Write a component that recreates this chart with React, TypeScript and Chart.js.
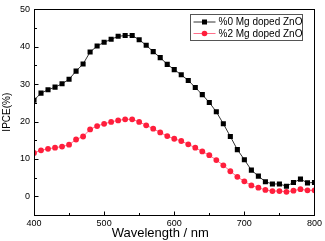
import React, { useEffect, useRef } from "react";
import { Chart, registerables } from "chart.js";

Chart.register(...registerables);

const wavelengths = [
  400, 410, 420, 430, 440, 450, 460, 470, 480, 490, 500, 510, 520, 530, 540, 550, 560, 570, 580, 590,
  600, 610, 620, 630, 640, 650, 660, 670, 680, 690, 700, 710, 720, 730, 740, 750, 760, 770, 780, 790, 800,
];
const mg0Values = [
  25.7, 27.6, 28.5, 29.2, 30.1, 31.3, 33.5, 35.4, 38.6, 40.2, 41.2, 42.0, 42.8, 43.0, 43.0, 41.9, 40.4, 38.7, 37.1, 35.3,
  33.9, 32.5, 31.0, 29.1, 27.2, 25.1, 22.6, 19.4, 16.0, 12.5, 9.8, 7.0, 5.4, 3.9, 3.3, 3.3, 2.7, 3.7, 4.6, 3.6, 3.7,
];
const mg2Values = [
  11.6, 12.3, 12.7, 13.0, 13.3, 13.8, 15.2, 16.0, 17.9, 18.8, 19.4, 19.9, 20.3, 20.6, 20.6, 19.9, 19.0, 18.1, 17.1, 16.1,
  15.4, 14.8, 13.9, 13.0, 12.0, 11.0, 9.7, 8.3, 6.7, 5.2, 4.0, 2.9, 2.3, 1.7, 1.4, 1.4, 1.2, 1.5, 1.9, 1.6, 1.6,
];
const seriesLabels = ["%0 Mg doped ZnO", "%2 Mg doped ZnO"];
const xTitle = "Wavelength / nm";
const yTitle = "IPCE(%)";
const xTicks = [400, 500, 600, 700, 800];
const xMinorTicks = [450, 550, 650, 750];
const yTicks = [0, 10, 20, 30, 40, 50];
const yMinorTicks = [-5, 5, 15, 25, 35, 45];

const FONT = "'Liberation Sans', Arial, sans-serif";
const BLACK_LINE = "#333333";
const BLACK_POINT = "#000000";
const RED_LINE = "#ff6f8a";
const RED_POINT = "#ff1e3c";

const framePlugin = {
  id: "framePlugin",
  afterDraw(chart: any) {
    const { ctx, chartArea, scales } = chart;
    const xs = scales.x;
    const ys = scales.y;
    ctx.save();
    ctx.strokeStyle = "#000";
    ctx.lineWidth = 1;
    ctx.strokeRect(
      Math.round(chartArea.left) + 0.5,
      Math.round(chartArea.top) + 0.5,
      Math.round(chartArea.right - chartArea.left),
      Math.round(chartArea.bottom - chartArea.top)
    );
    ctx.beginPath();
    const bottom = Math.round(chartArea.bottom) + 0.5;
    const left = Math.round(chartArea.left) + 0.5;
    xTicks.forEach((v) => {
      const px = Math.round(xs.getPixelForValue(v)) + 0.5;
      ctx.moveTo(px, bottom);
      ctx.lineTo(px, bottom - 4);
    });
    xMinorTicks.forEach((v) => {
      const px = Math.round(xs.getPixelForValue(v)) + 0.5;
      ctx.moveTo(px, bottom);
      ctx.lineTo(px, bottom - 2.5);
    });
    yTicks.forEach((v) => {
      const py = Math.round(ys.getPixelForValue(v)) + 0.5;
      ctx.moveTo(left, py);
      ctx.lineTo(left + 4, py);
    });
    yMinorTicks.forEach((v) => {
      const py = Math.round(ys.getPixelForValue(v)) + 0.5;
      ctx.moveTo(left, py);
      ctx.lineTo(left + 2.5, py);
    });
    ctx.stroke();

    // x-axis title (sits a little left of centre in the original)
    ctx.fillStyle = "#000";
    ctx.font = `13px ${FONT}`;
    ctx.textAlign = "center";
    ctx.textBaseline = "middle";
    ctx.fillText(xTitle, (chartArea.left + chartArea.right) / 2 - 14, 233);

    // legend
    const bx = 190.5, by = 14.5, bw = 112, bh = 26;
    ctx.fillStyle = "#fff";
    ctx.fillRect(bx, by, bw, bh);
    ctx.strokeStyle = "#555";
    ctx.strokeRect(bx, by, bw, bh);
    const rows = [by + 7.5, by + 19];
    chart.data.datasets.forEach((ds: any, i: number) => {
      const yy = rows[i];
      ctx.strokeStyle = ds.borderColor;
      ctx.lineWidth = 1;
      ctx.beginPath();
      ctx.moveTo(bx + 3, yy);
      ctx.lineTo(bx + 25, yy);
      ctx.stroke();
      ctx.fillStyle = ds.pointBackgroundColor;
      if (ds.pointStyle === "rect") {
        ctx.fillRect(bx + 14 - 2.5, yy - 2.5, 5, 5);
      } else {
        ctx.beginPath();
        ctx.arc(bx + 14, yy, 2.8, 0, Math.PI * 2);
        ctx.fill();
      }
      ctx.fillStyle = "#000";
      ctx.font = `10px ${FONT}`;
      ctx.textBaseline = "middle";
      ctx.textAlign = "left";
      ctx.fillText(ds.label, bx + 28, yy + 0.5);
    });
    ctx.restore();
  },
};

export default function App() {
  const canvasRef = useRef<HTMLCanvasElement | null>(null);

  useEffect(() => {
    const canvas = canvasRef.current;
    if (!canvas) return;
    const chart = new Chart(canvas, {
      type: "line",
      data: {
        datasets: [
          {
            label: seriesLabels[0],
            data: wavelengths.map((x, i) => ({ x, y: mg0Values[i] })),
            borderColor: BLACK_LINE,
            borderWidth: 1,
            pointStyle: "rect",
            pointRadius: 3.6,
            pointBackgroundColor: BLACK_POINT,
            pointBorderWidth: 0,
            pointBorderColor: BLACK_POINT,
            tension: 0,
          },
          {
            label: seriesLabels[1],
            data: wavelengths.map((x, i) => ({ x, y: mg2Values[i] })),
            borderColor: RED_LINE,
            borderWidth: 1,
            pointStyle: "circle",
            pointRadius: 2.9,
            pointBackgroundColor: RED_POINT,
            pointBorderWidth: 0,
            pointBorderColor: RED_POINT,
            tension: 0,
          },
        ],
      },
      options: {
        animation: false,
        responsive: false,
        maintainAspectRatio: false,
        layout: { padding: { top: 4, right: 9, left: 0, bottom: 0 } },
        plugins: { legend: { display: false }, tooltip: { enabled: false } },
        scales: {
          x: {
            type: "linear",
            min: 400,
            max: 800,
            afterBuildTicks: (scale: any) => {
              scale.ticks = xTicks.map((v) => ({ value: v }));
            },
            afterFit: (scale: any) => {
              scale.height = 26;
            },
            ticks: { font: { family: FONT, size: 9 }, color: "#000", padding: 3, maxRotation: 0 },
            grid: { display: true, drawOnChartArea: false, drawTicks: false },
            border: { display: true, color: "#000", width: 1 },
            title: { display: false },
          },
          y: {
            type: "linear",
            min: -5,
            max: 50,
            afterBuildTicks: (scale: any) => {
              scale.ticks = yTicks.map((v) => ({ value: v }));
            },
            afterFit: (scale: any) => {
              scale.width = 34;
            },
            ticks: { font: { family: FONT, size: 9 }, color: "#000", padding: 4 },
            grid: { display: true, drawOnChartArea: false, drawTicks: false },
            border: { display: true, color: "#000", width: 1 },
            title: {
              display: true,
              text: yTitle,
              font: { family: FONT, size: 10 },
              color: "#000",
              padding: { top: 1, bottom: 0 },
            },
          },
        },
      },
      plugins: [framePlugin],
    });
    return () => chart.destroy();
  }, []);

  return (
    <div style={{ position: "absolute", left: 0, top: 0, width: 325, height: 241, background: "#fff" }}>
      <canvas ref={canvasRef} width={325} height={241} style={{ display: "block", width: 325, height: 241 }} />
    </div>
  );
}
